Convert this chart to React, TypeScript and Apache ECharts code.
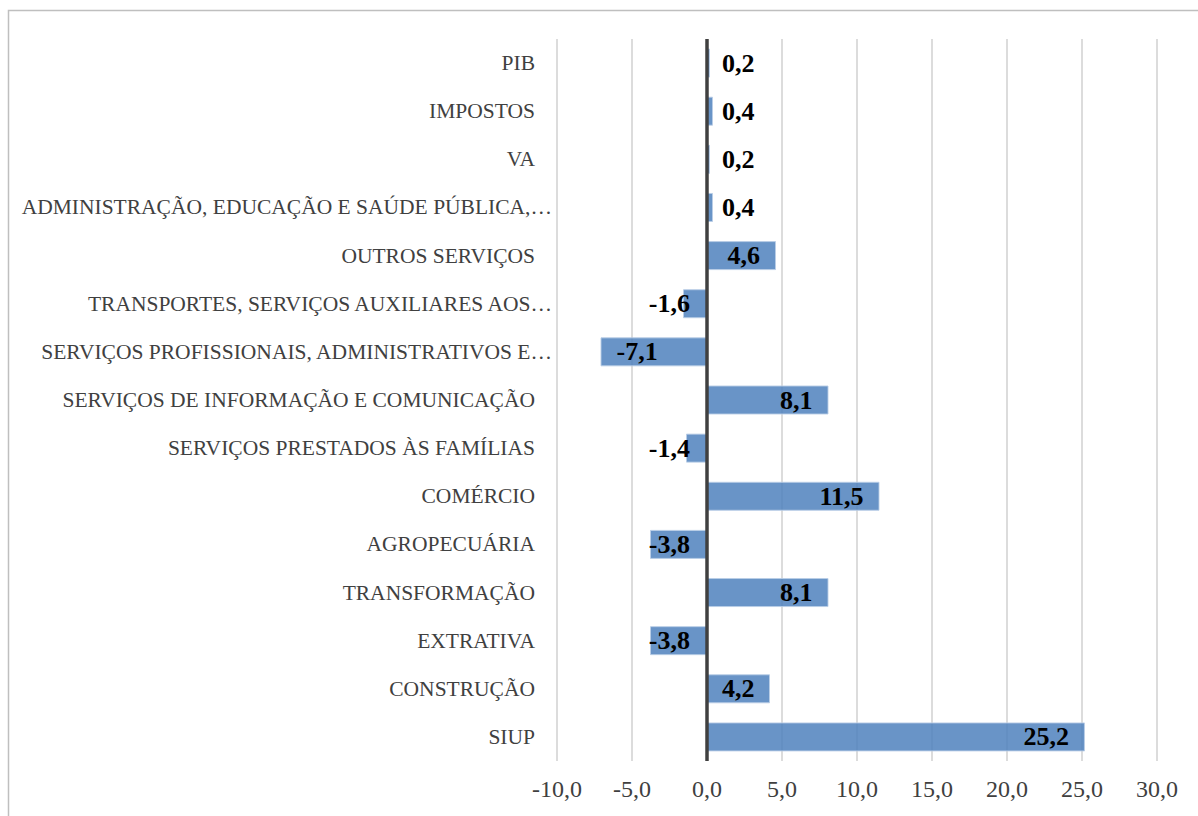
import React, { useEffect, useRef } from "react";
import * as echarts from "echarts";

const categories: string[] = [
  "PIB",
  "IMPOSTOS",
  "VA",
  "ADMINISTRAÇÃO, EDUCAÇÃO E SAÚDE PÚBLICA,…",
  "OUTROS SERVIÇOS",
  "TRANSPORTES, SERVIÇOS AUXILIARES AOS…",
  "SERVIÇOS PROFISSIONAIS, ADMINISTRATIVOS E…",
  "SERVIÇOS DE INFORMAÇÃO E COMUNICAÇÃO",
  "SERVIÇOS PRESTADOS ÀS FAMÍLIAS",
  "COMÉRCIO",
  "AGROPECUÁRIA",
  "TRANSFORMAÇÃO",
  "EXTRATIVA",
  "CONSTRUÇÃO",
  "SIUP",
];

const values: number[] = [0.2, 0.4, 0.2, 0.4, 4.6, -1.6, -7.1, 8.1, -1.4, 11.5, -3.8, 8.1, -3.8, 4.2, 25.2];

const axisMin = -10;
const axisMax = 30;
const axisStep = 5;

const FONT = "'Liberation Serif', 'DejaVu Serif', serif";
const fmt = (v: number) => v.toFixed(1).replace(".", ",");

function labelFor(v: number) {
  const big = Math.abs(v) >= 4.5;
  if (v >= 0) {
    return big
      ? { position: "insideRight", distance: 16 }
      : { position: "insideLeft", distance: 15 };
  }
  return big
    ? { position: "insideLeft", distance: 16 }
    : { position: "insideRight", distance: 17 };
}

export default function App() {
  const ref = useRef<HTMLDivElement>(null);

  useEffect(() => {
    if (!ref.current) return;
    const chart = echarts.init(ref.current, null, { renderer: "svg" });
    chart.setOption({
      animation: false,
      backgroundColor: "#ffffff",
      graphic: [
        {
          type: "rect",
          shape: { x: 8.5, y: 10.5, width: 1400, height: 1000 },
          style: { fill: "none", stroke: "#bfbfbf", lineWidth: 1.5 },
          silent: true,
        },
      ],
      grid: {
        left: 557,
        right: 41,
        top: 39,
        bottom: 55,
        containLabel: false,
        outerBoundsMode: "none",
      },
      xAxis: {
        type: "value",
        min: axisMin,
        max: axisMax,
        interval: axisStep,
        axisLine: { show: false },
        axisTick: { show: false },
        splitLine: { show: true, lineStyle: { color: "#d0d0d0", width: 1.5 } },
        axisLabel: {
          formatter: (v: number) => fmt(v),
          color: "#404040",
          fontFamily: FONT,
          fontSize: 24,
          margin: 16,
        },
      },
      yAxis: {
        type: "category",
        data: categories,
        inverse: true,
        axisLine: { show: false, onZero: false },
        axisTick: { show: false },
        splitLine: { show: false },
        axisLabel: {
          color: "#404040",
          fontFamily: FONT,
          fontSize: 21.5,
          margin: 5,
          formatter: (s: string) => (s.endsWith("…") ? s : `${s}{gap| }`),
          rich: {
            gap: { width: 17, fontSize: 21.5, fontFamily: FONT },
          },
        },
      },
      series: [
        {
          type: "bar",
          barWidth: 29,
          data: values.map((v) => ({
            value: v,
            label: labelFor(v),
          })),
          itemStyle: {
            color: "rgba(79,129,189,0.85)",
            borderColor: "rgba(185,205,230,0.9)",
            borderWidth: 1,
          },
          label: {
            show: true,
            formatter: (p: any) => fmt(p.value),
            color: "#000000",
            fontFamily: FONT,
            fontWeight: "bold",
            fontSize: 26,
          },
          markLine: {
            silent: true,
            symbol: "none",
            label: { show: false },
            lineStyle: { color: "#404040", width: 3.5, type: "solid" },
            data: [{ xAxis: 0 }],
          },
        },
      ],
    });
    return () => chart.dispose();
  }, []);

  return (
    <div
      ref={ref}
      style={{ position: "absolute", left: 0, top: 0, width: 1198, height: 816 }}
    />
  );
}
